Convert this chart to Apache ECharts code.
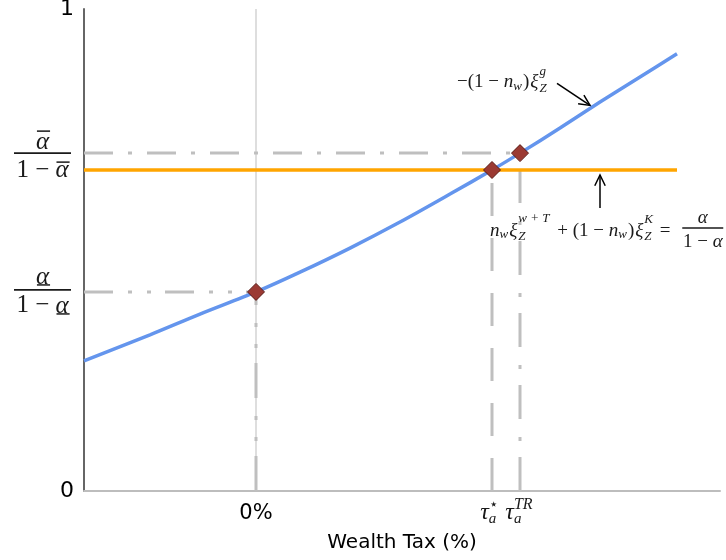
<!DOCTYPE html>
<html><head><meta charset="utf-8">
<script src="https://cdn.jsdelivr.net/npm/echarts@6/dist/echarts.min.js"></script>
<style>html,body{margin:0;padding:0;background:#fff}#c{width:726px;height:560px}</style>
</head><body><div id="c"></div>
<script>
// ---- data ----
const curveX = [-1.72, -1.06, -0.56, 0, 0.44, 0.94, 1.44, 1.94, 2.36, 2.64, 3.04, 3.44, 3.84, 4.21];
const curveY = [0.270, 0.324, 0.367, 0.413, 0.454, 0.504, 0.558, 0.616, 0.666, 0.701, 0.753, 0.807, 0.859, 0.907];
const flatX = [-1.72, 4.21];
const flatLevel = 0.666;
const tauZero = 0, tauStar = 2.36, tauTR = 2.64;
const levelLow = 0.413, levelStar = 0.666, levelHigh = 0.701;
const xMin = -1.72, xMax = 4.64;
const yTickValues = [0, 1];
const yTickLabels = ['0', '1'];
const xTickValues = [0];
const xTickLabels = ['0%'];
const xAxisTitle = 'Wealth Tax (%)';
const arrow1Point = [3.34, 0.80];
const arrow2Point = [3.44, 0.666];

const GRAY = '#bfbfbf';
const gray = (data, dash, z) => ({
  type: 'line', data, symbol: 'none', silent: true, z: z || 1,
  lineStyle: { color: GRAY, width: 3, type: dash, cap: 'butt' }
});

const chart = echarts.init(document.getElementById('c'), null, { renderer: 'canvas' });
const option = {
  animation: false,
  grid: { left: 84, right: 6, top: 9, bottom: 69, outerBoundsMode: 'none', containLabel: false },
  xAxis: {
    type: 'value', min: xMin, max: xMax,
    axisLine: { onZero: false, lineStyle: { color: '#bdbdbd', width: 2 } },
    axisTick: { show: false }, splitLine: { show: false },
    axisLabel: { customValues: xTickValues, formatter: v => xTickLabels[xTickValues.indexOf(v)] || '',
      fontSize: 21, color: '#000', fontFamily: 'DejaVu Sans', margin: 12 },
    name: xAxisTitle, nameLocation: 'middle', nameGap: 42,
    nameTextStyle: { fontSize: 20, color: '#000', fontFamily: 'DejaVu Sans' }
  },
  yAxis: {
    type: 'value', min: 0, max: 1,
    axisLine: { show: true, onZero: false, lineStyle: { color: '#666', width: 2 } },
    axisTick: { show: false }, splitLine: { show: false },
    axisLabel: { customValues: yTickValues, formatter: v => yTickLabels[yTickValues.indexOf(v)],
      fontSize: 22, color: '#000', fontFamily: 'DejaVu Sans', margin: 10 }
  },
  series: [
    { type: 'line', data: [[tauZero, 0], [tauZero, 1]], symbol: 'none', silent: true, z: 0,
      lineStyle: { color: '#c8c8c8', width: 1.2 } },
    gray([[xMin, levelHigh], [tauTR, levelHigh]], [29, 15, 4, 15]),
    gray([[xMin, levelLow], [tauZero, levelLow]], [29, 15, 4, 15, 4, 14]),
    gray([[tauZero, 0], [tauZero, levelLow]], [35, 15, 4, 17, 4, 18]),
    gray([[tauStar, 0], [tauStar, levelStar]], [33, 22]),
    gray([[tauTR, 0], [tauTR, levelHigh]], [34, 16, 4, 18]),
    { type: 'line', data: flatX.map(x => [x, flatLevel]), symbol: 'none', z: 3,
      lineStyle: { color: '#ffa500', width: 3.5 } },
    { type: 'line', data: curveX.map((x, i) => [x, curveY[i]]), symbol: 'none', smooth: 0.3, z: 4,
      lineStyle: { color: '#6495ed', width: 3.5 } },
    { type: 'scatter', data: [[tauZero, levelLow], [tauStar, levelStar], [tauTR, levelHigh]],
      symbol: 'diamond', symbolSize: 17, z: 5,
      itemStyle: { color: '#9b3a33', borderColor: '#5a1a15', borderWidth: 1, opacity: 1 } }
  ]
};
chart.setOption(option);

// ---- math annotations (real text) ----
const MATH = "'Liberation Serif','DejaVu Serif',serif";
const INK = '#1a1a1a';
const cv = document.createElement('canvas').getContext('2d');
function fontOf(p) { return (p.i ? 'italic ' : '') + p.s + 'px ' + MATH; }
function meas(p) { cv.font = fontOf(p); return cv.measureText(p.t).width; }
function layout(pieces) {
  let x = 0, prevX = 0, prevEnd = 0; const out = [];
  for (const p of pieces) {
    if (p.g && !p.st) x += p.g;
    const sx = p.st ? prevX : x;
    const w = meas(p);
    out.push({ p, x: sx, w });
    if (p.st) { x = Math.max(prevEnd, sx + w); prevEnd = x; }
    else { prevX = sx; prevEnd = sx + w; x = sx + w; }
  }
  return { items: out, width: x };
}
const G = [];
function row(pieces, x0, y0, anchor) {
  const L = layout(pieces);
  let sx = x0;
  if (anchor === 'center') sx = x0 - L.width / 2;
  if (anchor === 'right') sx = x0 - L.width;
  const pos = [];
  for (const it of L.items) {
    G.push({ type: 'text', x: sx + it.x, y: y0 + (it.p.dy || 0), z: 10,
      style: { text: it.p.t, font: fontOf(it.p), fill: INK,
        align: 'left', textAlign: 'left', verticalAlign: 'middle', textVerticalAlign: 'middle' } });
    pos.push({ x: sx + it.x, w: it.w });
  }
  return { left: sx, width: L.width, pos };
}
function hline(x1, x2, y, w) {
  G.push({ type: 'line', z: 10, shape: { x1, y1: y, x2, y2: y }, style: { stroke: INK, lineWidth: w || 1.3 } });
}
function arrow(tx, ty, hx, hy) {
  G.push({ type: 'line', z: 10, shape: { x1: tx, y1: ty, x2: hx, y2: hy }, style: { stroke: '#000', lineWidth: 1.5 } });
  const a = Math.atan2(ty - hy, tx - hx), L = 12, s = 0.45;
  G.push({ type: 'polyline', z: 10, shape: { points: [
    [hx + L * Math.cos(a + s), hy + L * Math.sin(a + s)], [hx, hy],
    [hx + L * Math.cos(a - s), hy + L * Math.sin(a - s)]] },
    style: { stroke: '#000', lineWidth: 1.5, fill: null } });
}
const px = (x, y) => chart.convertToPixel({ gridIndex: 0 }, [x, y]);

// y-axis fraction labels
const axisX = px(xMin, 0)[0];
function fracLabel(level, bar, decor) {
  const yBar = px(xMin, level)[1] + bar.off;
  const right = axisX - 13, left = right - 57, cx = (left + right) / 2;
  hline(left, right, yBar, 1.7);
  const n = row([{ t: 'α', s: 25, i: 1 }], cx, yBar + bar.num, 'center');
  const d = row([{ t: '1', s: 25 }, { t: ' − ', s: 25 }, { t: 'α', s: 25, i: 1 }], cx, yBar + bar.den, 'center');
  const na = n.pos[0], da = d.pos[2];
  hline(na.x + 1, na.x + na.w + 1, yBar + bar.num + decor.num, 1.5);
  hline(da.x + 1, da.x + da.w + 1, yBar + bar.den + decor.den, 1.5);
}
fracLabel(levelHigh, { off: 0, num: -11, den: 17 }, { num: -11, den: -8 });
fracLabel(levelLow, { off: -2, num: -13, den: 16 }, { num: 8, den: 8 });

// x-axis tau labels
const yTau = px(0, 0)[1] + 22;
row([{ t: 'τ', s: 24, i: 1 }, { t: '⋆', s: 15, dy: -8 }, { t: 'a', s: 15, i: 1, dy: 6, st: 1 }], px(tauStar, 0)[0] - 3, yTau, 'center');
row([{ t: 'τ', s: 24, i: 1 }, { t: 'TR', s: 16, i: 1, dy: -8 }, { t: 'a', s: 15, i: 1, dy: 6, st: 1 }], px(tauTR, 0)[0] - 1, yTau, 'center');

// annotation 1
const a1 = px(arrow1Point[0], arrow1Point[1]);
arrow(a1[0] - 33, a1[1] - 22, a1[0], a1[1]);
row([{ t: '−(1 − ', s: 19 }, { t: 'n', s: 19, i: 1 }, { t: 'w', s: 13, i: 1, dy: 4 }, { t: ')', s: 19, g: 1 },
     { t: 'ξ', s: 19, i: 1, g: 1 }, { t: 'g', s: 13, i: 1, dy: -11, g: 1 }, { t: 'Z', s: 13, i: 1, dy: 6, st: 1 }],
    a1[0] - 133, a1[1] - 23, 'left');

// annotation 2
const a2 = px(arrow2Point[0], arrow2Point[1]);
arrow(a2[0], a2[1] + 38, a2[0], a2[1] + 5);
const r2 = row([{ t: 'n', s: 19, i: 1 }, { t: 'w', s: 13, i: 1, dy: 4 }, { t: 'ξ', s: 19, i: 1, g: 1 },
     { t: 'w + T', s: 13, i: 1, dy: -12, g: 1 }, { t: 'Z', s: 13, i: 1, dy: 6, st: 1 },
     { t: ' + (1 − ', s: 19, g: 3 }, { t: 'n', s: 19, i: 1 }, { t: 'w', s: 13, i: 1, dy: 4 }, { t: ')', s: 19, g: 1 },
     { t: 'ξ', s: 19, i: 1, g: 1 }, { t: 'K', s: 13, i: 1, dy: -11, g: 1 }, { t: 'Z', s: 13, i: 1, dy: 6, st: 1 },
     { t: ' = ', s: 19, g: 2 }], a2[0] - 110, a2[1] + 61, 'left');
{
  const fl = r2.left + r2.width + 7, fw = 41, yb = a2[1] + 58, cx = fl + fw / 2;
  hline(fl, fl + fw, yb, 1.4);
  row([{ t: 'α', s: 19, i: 1 }], cx, yb - 10, 'center');
  row([{ t: '1 − ', s: 19 }, { t: 'α', s: 19, i: 1 }], cx, yb + 14, 'center');
}

chart.setOption({ graphic: { elements: G } });
</script></body></html>
